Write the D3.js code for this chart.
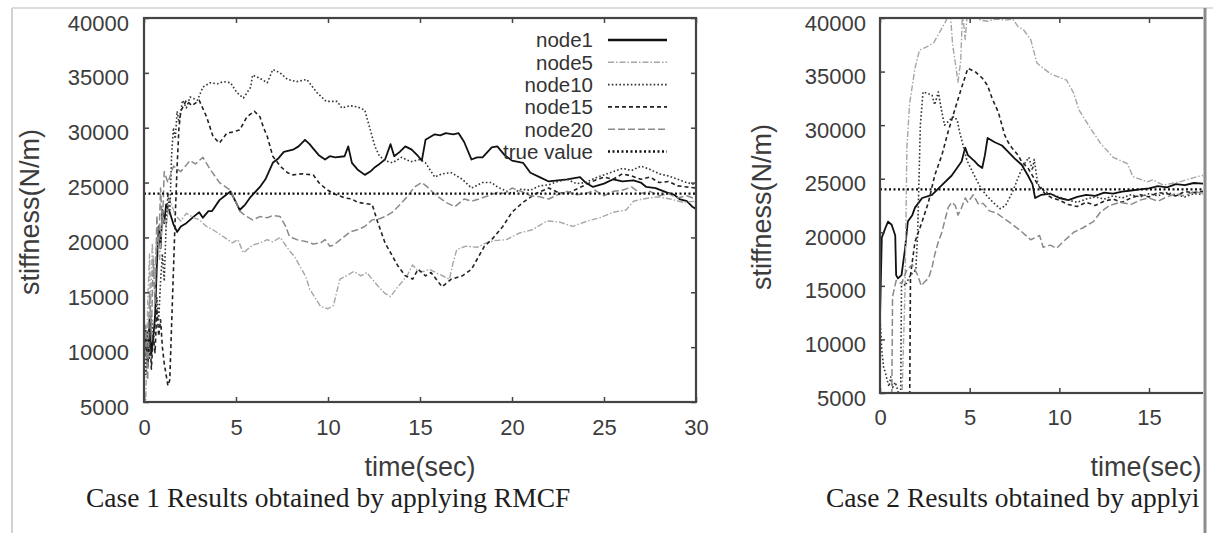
<!DOCTYPE html>
<html><head><meta charset="utf-8">
<script src="https://cdn.jsdelivr.net/npm/d3@7"></script>
<style>body{margin:0;background:#fff}svg{display:block}</style>
</head><body><svg id="c" width="1213" height="533"></svg>
<script>
// ---------------- DATA ----------------
const xTicks = [0, 5, 10, 15, 20, 25, 30];
const yTicks = [5000, 10000, 15000, 20000, 25000, 30000, 35000, 40000];
const seriesNames = ["node1", "node5", "node10", "node15", "node20", "true value"];
const trueValue = 24000;

// Case 1 (left panel) [time, stiffness]
const c1Node1 = [[0,9000],[0.1,11500],[0.2,8200],[0.3,12500],[0.4,9400],[0.5,10800],[0.6,12800],[0.7,17500],[0.8,21000],[0.9,19000],[1.0,22500],[1.1,21300],[1.2,23000],[1.4,22300],[1.6,21200],[1.8,20500],[2.0,21000],[2.3,21300],[2.7,21900],[3.0,22300],[3.2,21800],[3.5,22400],[3.7,22400],[4.1,23400],[4.4,23800],[4.7,24200],[5.0,23200],[5.2,22500],[5.5,23000],[5.8,23700],[6.3,24600],[6.6,25300],[7.0,26800],[7.3,27200],[7.6,27800],[8.1,28000],[8.4,28300],[8.75,28900],[9.0,28500],[9.2,28100],[9.5,27500],[9.84,27100],[10.1,27400],[10.4,27300],[10.9,27400],[11.1,28300],[11.3,26800],[11.6,26200],[12.0,25700],[12.3,26000],[12.55,26400],[12.8,26700],[13.1,27100],[13.4,28500],[13.6,27400],[13.9,27800],[14.2,28300],[14.55,28000],[14.9,27400],[15.1,27000],[15.3,28900],[15.8,29400],[16.1,29300],[16.4,29500],[16.8,29400],[17.1,29500],[17.4,28700],[17.8,27100],[18.1,27300],[18.4,27300],[18.9,28200],[19.2,28300],[19.6,27500],[20.0,27000],[20.6,26800],[21.0,25900],[21.5,25500],[22.0,25100],[22.5,25200],[23.0,25300],[23.7,25500],[24.0,25000],[24.4,24600],[25.0,24900],[25.5,25300],[26.0,25100],[26.6,25200],[27.0,25000],[27.3,24600],[27.8,24500],[28.4,24100],[28.8,23900],[29.1,23500],[29.5,23300],[29.8,22800],[30,22600]];
const c1Node5 = [[0,6000],[0.1,5200],[0.15,9000],[0.2,14000],[0.3,18500],[0.35,13000],[0.45,19500],[0.55,16500],[0.7,20000],[0.85,18000],[1.0,22000],[1.2,21000],[1.4,23500],[1.7,22000],[2.0,21500],[2.3,22200],[2.7,21800],[3.0,21600],[3.4,21000],[3.75,20700],[4.2,20200],[4.8,19500],[5.1,19800],[5.4,18600],[5.9,19300],[6.3,19500],[6.7,19800],[7.0,19600],[7.4,20000],[7.9,18800],[8.2,18200],[8.5,17300],[8.8,16400],[9.0,15300],[9.3,14500],[9.6,13700],[10.0,13500],[10.3,13800],[10.5,15200],[10.65,16200],[11.0,16500],[11.4,16900],[11.8,16500],[12.1,16800],[12.5,16000],[12.8,15400],[13.1,14900],[13.4,14600],[13.75,15400],[14.0,15900],[14.3,16500],[14.6,17500],[14.9,16900],[15.2,16900],[15.5,17100],[16.1,16600],[16.6,16200],[16.8,17700],[17.0,18900],[17.5,19200],[18.1,19100],[18.6,19500],[19.0,19700],[19.7,19800],[20.4,20400],[21.1,20700],[21.9,21500],[22.6,21400],[23.3,21000],[24.1,21500],[24.8,21800],[25.5,22300],[26.2,22500],[26.6,23300],[27.1,23500],[27.9,23700],[28.6,23500],[29.3,23200],[30,23300]];
const c1Node10 = [[0,10000],[0.1,7500],[0.2,11500],[0.3,9000],[0.4,13000],[0.5,10500],[0.6,12000],[0.7,14500],[0.8,12500],[0.9,16000],[1.0,18500],[1.1,16000],[1.2,21000],[1.3,24000],[1.4,22000],[1.5,27500],[1.6,30000],[1.7,29000],[1.8,31500],[1.9,30500],[2.1,32500],[2.3,31800],[2.5,32800],[2.9,32500],[3.2,33700],[3.6,34100],[4.0,34000],[4.3,34200],[4.7,34100],[5.05,33200],[5.4,32700],[5.8,33700],[5.9,34800],[6.3,34500],[6.7,34100],[7.0,35300],[7.4,35000],[7.8,34400],[8.3,34200],[8.85,34400],[9.4,33200],[9.9,32400],[10.5,32400],[10.75,31800],[11.2,32000],[11.6,31900],[12.0,31600],[12.3,29800],[12.55,28300],[12.8,27400],[13.1,27000],[13.5,26800],[14.0,27300],[14.5,26900],[15.0,27100],[15.3,26800],[15.8,25500],[16.2,25800],[16.7,25900],[17.3,25300],[17.8,24500],[18.4,25000],[18.9,25000],[19.2,24600],[19.6,24300],[20.0,24000],[20.5,24400],[21.0,24300],[21.5,24700],[22.0,24800],[22.5,25100],[23.0,25300],[23.5,24900],[24.0,25000],[24.5,25400],[25.0,25700],[25.5,26000],[26.0,26300],[26.5,26100],[27.0,26500],[27.5,26200],[28.0,25800],[28.5,25600],[29.0,25300],[29.5,25000],[30,24800]];
const c1Node15 = [[0,8500],[0.1,10500],[0.2,9000],[0.3,12000],[0.4,8000],[0.5,11000],[0.6,9500],[0.7,13500],[0.8,11000],[0.9,12500],[1.0,10000],[1.1,8500],[1.2,7500],[1.3,6500],[1.4,7000],[1.5,12000],[1.6,17000],[1.7,22000],[1.8,26500],[1.9,30000],[2.0,31500],[2.3,32500],[2.6,32000],[3.0,32500],[3.4,31000],[3.75,29200],[4.1,28600],[4.5,29500],[4.8,29600],[5.2,29800],[5.6,31000],[6.0,31500],[6.3,31000],[6.5,30000],[6.7,29200],[7.0,27400],[7.4,26500],[7.8,25900],[8.1,25700],[8.6,25800],[9.2,25700],[9.5,25000],[9.9,24400],[10.3,24000],[10.9,23600],[11.3,23500],[11.6,23200],[12.0,23100],[12.4,23000],[12.7,21400],[13.1,19500],[13.5,18300],[13.8,17400],[14.2,16500],[14.6,16200],[14.9,17100],[15.3,16500],[15.6,16800],[16.2,15500],[16.7,16200],[17.3,16500],[17.8,17100],[18.2,18300],[18.5,19200],[18.9,19800],[19.5,21000],[20.0,22300],[20.6,23200],[21.3,24000],[22.0,24500],[22.5,24100],[23.0,24000],[23.5,24400],[24.0,24800],[24.5,25200],[25.0,25500],[25.5,25300],[26.0,25800],[26.5,25600],[27.0,25300],[27.5,25500],[28.0,25000],[28.5,25100],[29.0,24700],[29.5,24600],[30,24500]];
const c1Node20 = [[0,8000],[0.1,12000],[0.2,7000],[0.3,15000],[0.4,11000],[0.5,18000],[0.6,14000],[0.7,22000],[0.8,19000],[0.9,24500],[1.0,21000],[1.1,26000],[1.3,25000],[1.6,26500],[2.0,26000],[2.5,27000],[2.8,26700],[3.2,27300],[3.6,26200],[4.1,25000],[4.7,24300],[5.0,23200],[5.2,22400],[5.5,22000],[5.9,21600],[6.3,21900],[6.7,21800],[7.0,22000],[7.4,21900],[7.7,21000],[7.9,20100],[8.3,19800],[8.85,19600],[9.2,19400],[9.6,19500],[9.84,19800],[10.1,19200],[10.3,19300],[10.9,20100],[11.2,20500],[11.6,20700],[12.0,21000],[12.4,21600],[12.8,21700],[13.1,21900],[13.5,22300],[13.8,22800],[14.3,23700],[14.7,24600],[15.1,25000],[15.4,24600],[15.7,24100],[16.0,23700],[16.4,23200],[16.9,22800],[17.4,23500],[17.8,23300],[18.2,23500],[18.7,23800],[19.2,24100],[19.6,24000],[20.0,24500],[20.5,24200],[21.0,23800],[21.5,23700],[22.0,23500],[22.5,23900],[23.0,24200],[23.5,23900],[24.0,24000],[24.5,24300],[25.0,23800],[25.5,24200],[26.0,24300],[26.5,24600],[27.0,24000],[27.5,24200],[28.0,23800],[28.5,24000],[29.0,23600],[29.5,23800],[30,23500]];

// Case 2 (right panel, cropped in the source) [time, stiffness]
const c2Node1 = [[0,12000],[0.1,19500],[0.3,20400],[0.45,21000],[0.65,20700],[0.85,19700],[0.9,16000],[1.0,15700],[1.2,16000],[1.4,18500],[1.55,21000],[1.8,21600],[1.95,22300],[2.35,23200],[2.9,23500],[3.45,24400],[4.0,25300],[4.55,26600],[4.75,27900],[4.9,27200],[5.3,26600],[5.45,26300],[5.7,26000],[5.85,27200],[6.0,28800],[6.4,28400],[6.8,28100],[7.15,27500],[7.5,26900],[7.9,26300],[8.25,25300],[8.5,24500],[8.65,23200],[9.0,23500],[9.5,23600],[10.0,23200],[10.5,23000],[11.0,23300],[11.5,23500],[12.0,23400],[12.5,23700],[13.0,23600],[13.5,23800],[14.0,23900],[14.5,24000],[15.0,24100],[15.5,24300],[16.0,24200],[16.5,24500],[17.0,24400],[17.5,24600],[18.3,24500]];
const c2Node5 = [[0,3000],[1.2,3000],[1.4,15000],[1.5,27900],[1.65,32000],[1.95,35300],[2.2,37000],[2.6,37300],[3.0,37700],[3.3,38600],[3.7,39800],[3.9,41000],[4.05,37500],[4.2,35800],[4.35,34000],[4.5,36000],[4.6,40500],[4.75,38000],[4.9,41000],[5.2,40300],[5.6,39800],[6.0,39700],[6.5,39900],[7.0,39800],[7.4,39900],[7.7,39200],[8.0,38900],[8.4,38000],[8.75,35800],[9.5,34800],[10.4,34200],[10.8,33000],[11.1,31400],[11.7,29800],[12.3,28300],[13.0,27000],[13.8,26400],[14.1,25200],[14.9,24700],[15.2,24900],[15.8,24400],[16.7,24700],[17.7,25200],[18.3,25400]];
const c2Node10 = [[0,12100],[0.1,9000],[0.2,7400],[0.3,6900],[0.4,6200],[0.5,5600],[0.6,6500],[0.7,5500],[0.85,6000],[1.0,5200],[1.15,4000],[1.2,15500],[1.4,15000],[1.7,16000],[2.0,16500],[2.1,20000],[2.25,30000],[2.4,33100],[2.6,33000],[2.9,32800],[3.05,31900],[3.25,33100],[3.45,31200],[3.6,30000],[3.9,30500],[4.1,30800],[4.3,30500],[4.45,29300],[4.65,28000],[4.85,26700],[5.2,25500],[5.6,24200],[5.9,23500],[6.3,22800],[6.7,22200],[7.0,22500],[7.4,23800],[7.8,25500],[8.1,26500],[8.3,27000],[8.5,25800],[8.6,26800],[8.8,24500],[9.2,23800],[9.8,23400],[10.5,23000],[11.0,22800],[11.5,23100],[12.0,23300],[12.5,23100],[13.0,23400],[13.5,23200],[14.0,23500],[14.5,23300],[15.0,23600],[15.5,23400],[16.0,23700],[16.5,23500],[17.0,23300],[17.5,23600],[18.3,23500]];
const c2Node15 = [[0,3000],[1.65,3000],[1.7,16000],[1.95,19100],[2.35,21000],[2.7,22800],[3.05,25300],[3.45,27200],[3.8,29400],[4.2,31600],[4.55,33500],[4.9,35300],[5.3,35000],[5.7,34400],[6.0,33700],[6.25,32500],[6.6,31200],[6.8,30000],[6.95,29100],[7.15,28400],[7.35,27900],[7.7,27200],[7.9,26600],[8.25,26000],[8.6,25000],[8.9,24200],[9.2,23600],[9.6,23200],[10.0,23000],[10.5,22600],[11.0,22400],[11.5,22800],[12.0,22500],[12.5,22900],[13.0,23100],[13.5,22800],[14.0,23200],[14.5,23500],[15.0,23300],[15.5,23700],[16.0,23600],[16.5,23400],[17.0,23800],[17.5,23700],[18.3,23900]];
const c2Node20 = [[0,3000],[0.65,3000],[0.7,14000],[0.9,15500],[1.2,15200],[1.5,16500],[1.8,17000],[2.1,16000],[2.3,15000],[2.5,15400],[2.7,15700],[2.9,16700],[3.05,17900],[3.25,19100],[3.45,20000],[3.6,21000],[3.8,22300],[4.0,22800],[4.2,22500],[4.35,21600],[4.55,22300],[4.75,23200],[4.9,22800],[5.2,23500],[5.5,22600],[5.75,22700],[6.1,22000],[6.5,21800],[6.9,21300],[7.25,20900],[7.8,20200],[8.4,19300],[8.9,19700],[9.1,18600],[9.5,18800],[9.85,18500],[10.2,19100],[10.8,20000],[11.3,20400],[11.9,21000],[12.3,21900],[12.8,22500],[13.4,22800],[14.0,22600],[14.5,23000],[15.0,23200],[15.5,22900],[16.0,23300],[16.5,23600],[17.0,23400],[17.5,23800],[18.3,23600]];

// ---------------- DRAW ----------------
const svg = d3.select("#c");
const styles = {
  "node1":      {stroke:"#111", w:1.8, dash:null},
  "node5":      {stroke:"#a6a6a6", w:1.4, dash:"6,2,1.5,2"},
  "node10":     {stroke:"#333", w:1.6, dash:"1.6,2.2"},
  "node15":     {stroke:"#222", w:1.6, dash:"4,3"},
  "node20":     {stroke:"#8a8a8a", w:1.5, dash:"7,3"},
  "true value": {stroke:"#111", w:2.3, dash:"2,2.5"}
};
const SANS = "'Liberation Sans', Arial, sans-serif";
const SERIF = "'Liberation Serif', 'Times New Roman', serif";

// page borders
svg.append("line").attr("x1",12).attr("x2",1213).attr("y1",8).attr("y2",8).attr("stroke","#d2d2d2").attr("stroke-width",1.5);
svg.append("line").attr("x1",12).attr("x2",12).attr("y1",8).attr("y2",533).attr("stroke","#d2d2d2").attr("stroke-width",2);

function panel(opt){
  const x = d3.scaleLinear().domain([0,30]).range([opt.x0, opt.x1]);
  const y = d3.scaleLinear().domain([5000,40000]).range([opt.yb, opt.yt]);
  const cid = "clip"+opt.id, vid = "view"+opt.id;
  const defs = svg.append("defs");
  defs.append("clipPath").attr("id",cid).append("rect")
    .attr("x",opt.x0).attr("y",opt.yt).attr("width",Math.min(opt.x1,opt.cut)-opt.x0).attr("height",opt.yb-opt.yt);
  defs.append("clipPath").attr("id",vid).append("rect")
    .attr("x",0).attr("y",0).attr("width",opt.cut).attr("height",533);
  const g = svg.append("g").attr("clip-path","url(#"+vid+")");
  const shownX = xTicks.filter(t => x(t) < opt.cut - 10);

  // data lines
  const line = d3.line().x(d=>x(d[0])).y(d=>y(d[1]));
  const pg = g.append("g").attr("clip-path","url(#"+cid+")");
  opt.series.forEach((s,i)=>{
    const st = styles[seriesNames[i]];
    pg.append("path").datum(s).attr("d",line).attr("fill","none")
      .attr("stroke",st.stroke).attr("stroke-width",st.w)
      .attr("stroke-dasharray",st.dash).attr("stroke-linejoin","round");
  });
  const tv = styles["true value"];
  pg.append("path").datum([[0,trueValue],[30,trueValue]]).attr("d",line).attr("fill","none")
    .attr("stroke",tv.stroke).attr("stroke-width",tv.w).attr("stroke-dasharray",tv.dash);

  // axes (gnuplot style: inward ticks on all sides)
  const ax = g.append("g").attr("font-family",SANS);
  ax.append("g").attr("transform",`translate(0,${opt.yb})`)
    .call(d3.axisBottom(x).tickValues(shownX).tickSize(-5).tickPadding(opt.xpad));
  ax.append("g").attr("transform",`translate(0,${opt.yt})`)
    .call(d3.axisTop(x).tickValues(shownX).tickSize(-5).tickFormat(""));
  const left = ax.append("g").attr("transform",`translate(${opt.x0},0)`)
    .call(d3.axisLeft(y).tickValues(yTicks).tickSize(-5).tickPadding(opt.ypad).tickFormat(d3.format("d")));
  if (opt.x1 < opt.cut) {
    ax.append("g").attr("transform",`translate(${opt.x1},0)`)
      .call(d3.axisRight(y).tickValues(yTicks).tickSize(-5).tickFormat(""));
  }
  ax.selectAll(".domain").remove();
  ax.selectAll(".tick line").attr("stroke","#444").attr("stroke-width",1.5);
  ax.selectAll(".tick text").attr("font-size",22).attr("fill","#3c3c3c").attr("font-family",SANS);
  left.selectAll(".tick text").attr("dy","0.55em");
  // frame
  g.append("rect").attr("x",opt.x0).attr("y",opt.yt).attr("width",opt.x1-opt.x0).attr("height",opt.yb-opt.yt)
    .attr("fill","none").attr("stroke","#444").attr("stroke-width",2.2);

  // axis titles
  g.append("text").attr("transform",`translate(${opt.ytx},${opt.yty}) rotate(-90)`)
    .attr("text-anchor","middle").attr("dy","0.35em").attr("font-family",SANS).attr("font-size",27)
    .attr("fill","#3c3c3c").text("stiffness(N/m)");
  g.append("text").attr("x",opt.xtx).attr("y",476).attr("text-anchor","middle")
    .attr("font-family",SANS).attr("font-size",27).attr("fill","#3c3c3c").text("time(sec)");
  g.append("text").attr("x",opt.capx).attr("y",507).attr("font-family",SERIF).attr("font-size",27.5)
    .attr("fill","#1e1e1e").text(opt.caption);

  if(opt.legend){
    const lg = g.append("g");
    seriesNames.forEach((n,i)=>{
      const yy = 40 + i*22.3;
      lg.append("text").attr("x",593).attr("y",yy).attr("dy","0.36em").attr("text-anchor","end")
        .attr("font-family",SANS).attr("font-size",20.5).attr("fill","#333").text(n);
      const st = styles[n];
      lg.append("line").attr("x1",608).attr("x2",667).attr("y1",yy).attr("y2",yy)
        .attr("stroke",st.stroke).attr("stroke-width",n==="node1"?2.4:st.w).attr("stroke-dasharray",st.dash);
    });
  }
}

panel({id:1, x0:144, x1:696, yt:18, yb:402, cut:1213, xpad:17, ypad:15, ytx:30, yty:212, xtx:420,
  series:[c1Node1,c1Node5,c1Node10,c1Node15,c1Node20], legend:true,
  caption:"Case 1 Results obtained by applying RMCF", capx:86});
panel({id:2, x0:880, x1:1418, yt:18, yb:393, cut:1203, xpad:16, ypad:14, ytx:762, yty:207, xtx:1146,
  series:[c2Node1,c2Node5,c2Node10,c2Node15,c2Node20], legend:false,
  caption:"Case 2 Results obtained by applyi", capx:826});

// right cut edge of the scanned figure
svg.append("line").attr("x1",1205).attr("x2",1205).attr("y1",8).attr("y2",533).attr("stroke","#8c8c8c").attr("stroke-width",3);
</script></body></html>
